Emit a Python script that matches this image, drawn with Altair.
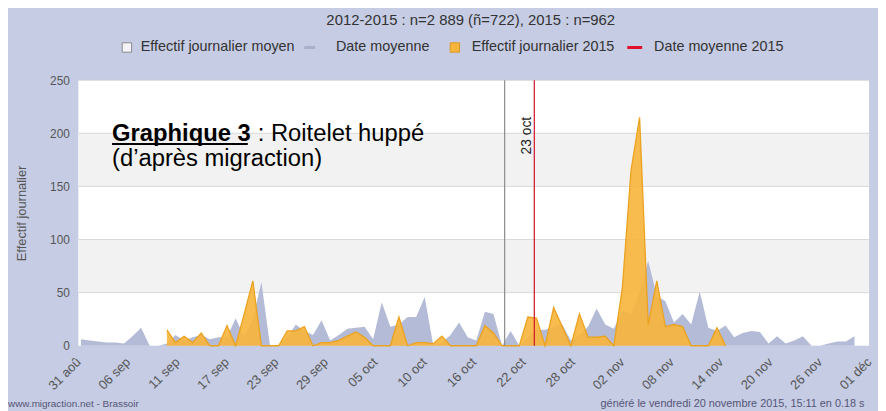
import altair as alt
import pandas as pd

# ---------------- data ----------------
tick_labels = ["31 aoû", "06 sep", "11 sep", "17 sep", "23 sep", "29 sep", "05 oct",
               "10 oct", "16 oct", "22 oct", "28 oct", "02 nov", "08 nov", "14 nov",
               "20 nov", "26 nov", "01 déc"]
TICK_STEP = 5.75          # days between labelled ticks
N_DAYS = 92               # 31 aoû -> 01 déc
DAY_OFFSET = 0.3          # position of a daily point inside its day

mean_start = 0            # day index of first value (31 aoû)
mean_values = [6, 5, 4, 3, 3, 2, 9, 17, 0, 0,
               2, 10, 5, 8, 10, 6, 8, 8, 26, 8,
               25, 60, 0, 0, 8, 20, 14, 10, 24, 5,
               10, 16, 17, 18, 6, 41, 18, 20, 27, 27,
               46, 0, 3, 10, 22, 8, 5, 32, 30, 0,
               14, 0, 8, 15, 15, 18, 20, 5, 10, 18,
               35, 20, 16, 33, 30, 50, 80, 47, 42, 22,
               30, 20, 51, 17, 14, 19, 8, 12, 14, 13,
               2, 9, 2, 5, 9, 0, 0, 2, 4, 4, 9]

y2015_start = 10          # day index of first 2015 value (10 sep)
y2015_values = [15, 3, 9, 3, 12, 0, 0, 19, 0, 30,
                61, 0, 0, 0, 14, 14, 18, 0, 3, 3,
                5, 9, 13, 8, 0, 0, 0, 27, 0, 3,
                3, 2, 9, 0, 0, 0, 0, 19, 12, 0,
                0, 0, 27, 26, 0, 36, 18, 0, 30, 8,
                8, 9, 0, 55, 165, 215, 20, 61, 18, 20,
                18, 0, 0, 0, 17, 0]

mean_dates = [49.6, 53.05]                 # date moyenne, date moyenne 2015 (day index)
mean_date_names = ["Date moyenne", "Date moyenne 2015"]
mean_date_colors = ["#8a8a8a", "#d0102a"]
mean_2015_label = "23 oct"

y_ticks = [0, 50, 100, 150, 200, 250]
grid_values = [50, 100, 150, 200, 250]
band_lo = [50, 150]
band_hi = [100, 200]

subtitle = "2012-2015 : n=2 889 (ñ=722), 2015 : n=962"
legend_labels = ["Effectif journalier moyen", "Date moyenne", "Effectif journalier 2015", "Date moyenne 2015"]
footer_left = "www.migraction.net - Brassoir"
footer_right = "généré le vendredi 20 novembre 2015, 15:11 en 0.18 s"

# ---------------- frames ----------------
df_mean = pd.DataFrame({"day": [mean_start + i + DAY_OFFSET for i in range(len(mean_values))],
                        "value": mean_values})
df_2015 = pd.DataFrame({"day": [y2015_start + i + DAY_OFFSET for i in range(len(y2015_values))],
                        "value": y2015_values})
df_bands = pd.DataFrame({"lo": band_lo, "hi": band_hi})
df_grid = pd.DataFrame({"v": grid_values})
df_rules = pd.DataFrame({"day": mean_dates, "name": mean_date_names, "color": mean_date_colors})
df_label = pd.DataFrame({"day": [mean_dates[1]], "txt": [mean_2015_label]})

W, H = 798, 268
FONT = "Liberation Sans"
GRAY_FILL = "#b4bbd7"
ORANGE_FILL = "#f7b53b"
ORANGE_LINE = "#eba21f"

label_array = "[" + ",".join("'" + t + "'" for t in tick_labels) + "]"
x_axis = alt.Axis(values=[k * TICK_STEP for k in range(len(tick_labels))],
                  labelExpr=label_array + "[round(datum.value / " + str(TICK_STEP) + ")]",
                  labelAngle=-45, labelAlign="right", labelBaseline="middle",
                  labelFontSize=13, labelColor="#555555", labelPadding=14,
                  labelFlush=False, labelOverlap=False, labelBound=False,
                  domain=False, ticks=False, grid=False, title=None)
y_axis = alt.Axis(values=y_ticks, title="Effectif journalier", titleFontSize=13,
                  titleColor="#555555", titleFontWeight="normal", titlePadding=21,
                  labelFontSize=12, labelColor="#555555", labelPadding=9,
                  domain=False, ticks=False, grid=False)
xs = alt.Scale(domain=[0, N_DAYS], nice=False, zero=False)
ys = alt.Scale(domain=[0, 250], nice=False)


def X(f):
    return alt.X(f + ":Q", scale=xs, axis=x_axis)


def Y(f):
    return alt.Y(f + ":Q", scale=ys, axis=y_axis)


bands = alt.Chart(df_bands).mark_rect(color="#f2f2f2").encode(
    x=alt.value(0), x2=alt.value(W), y=Y("lo"), y2="hi")
grid = alt.Chart(df_grid).mark_rule(color="#d9d9d9", strokeWidth=1).encode(y=Y("v"))
area_mean = alt.Chart(df_mean).mark_area(color=GRAY_FILL, opacity=1).encode(x=X("day"), y=Y("value"))
area_2015 = alt.Chart(df_2015).mark_area(color=ORANGE_FILL, opacity=0.9,
                                         line={"color": ORANGE_LINE, "strokeWidth": 1.3}).encode(
    x=X("day"), y=Y("value"))
rules = alt.Chart(df_rules).mark_rule(strokeWidth=1.2).encode(
    x=X("day"), color=alt.Color("color:N", scale=None))
lbl = alt.Chart(df_label).mark_text(angle=270, align="center", baseline="bottom", fontSize=14,
                                    color="#222222", font=FONT).encode(
    x=X("day"), y=alt.value(56), text="txt:N")

# annotation (text inside the plot)
ann1 = alt.Chart(df_label).mark_text(align="left", baseline="alphabetic", fontSize=24, fontWeight="bold",
                                     font=FONT, color="#000000", text="Graphique 3").encode(
    x=alt.value(34), y=alt.value(61))
ann_u = alt.Chart(df_label).mark_rule(color="#000000", strokeWidth=2).encode(
    x=alt.value(34), x2=alt.value(171), y=alt.value(64.5))
ann2 = alt.Chart(df_label).mark_text(align="left", baseline="alphabetic", fontSize=24,
                                     font=FONT, color="#000000", text=": Roitelet huppé").encode(
    x=alt.value(181), y=alt.value(61))
ann3 = alt.Chart(df_label).mark_text(align="left", baseline="alphabetic", fontSize=24,
                                     font=FONT, color="#000000", text="(d’après migraction)").encode(
    x=alt.value(34), y=alt.value(87))

# subtitle / legend / footer
sub = alt.Chart(df_label).mark_text(align="center", baseline="middle", fontSize=15, font=FONT,
                                    color="#333333", text=subtitle).encode(x=alt.value(396), y=alt.value(-61))
LEG_Y = -33
leg = [
    alt.Chart(df_label).mark_point(shape="square", size=90, filled=True, fill="#f4f4f8",
                                   stroke="#8a8a8a", strokeWidth=1, opacity=1).encode(
        x=alt.value(49), y=alt.value(LEG_Y)),
    alt.Chart(df_label).mark_rule(color="#a9b0cc", strokeWidth=3).encode(
        x=alt.value(228), x2=alt.value(239), y=alt.value(LEG_Y)),
    alt.Chart(df_label).mark_point(shape="square", size=90, filled=True, fill=ORANGE_FILL,
                                   stroke="#d99a25", strokeWidth=1, opacity=1).encode(
        x=alt.value(380), y=alt.value(LEG_Y)),
    alt.Chart(df_label).mark_rule(color="#e0102a", strokeWidth=3).encode(
        x=alt.value(554), x2=alt.value(569), y=alt.value(LEG_Y)),
]
for xpos, txt in zip([63, 260, 397, 581], legend_labels):
    leg.append(alt.Chart(df_label).mark_text(align="left", baseline="middle", fontSize=14.5, font=FONT,
                                             color="#333333", text=txt).encode(
        x=alt.value(xpos), y=alt.value(LEG_Y)))

foot1 = alt.Chart(df_label).mark_text(align="left", baseline="alphabetic", fontSize=10, font=FONT,
                                      color="#555577", text=footer_left).encode(
    x=alt.value(-71), y=alt.value(330))
foot2 = alt.Chart(df_label).mark_text(align="left", baseline="alphabetic", fontSize=11, font=FONT,
                                      color="#555577", text=footer_right).encode(
    x=alt.value(527), y=alt.value(330))

chart = alt.layer(bands, grid, area_mean, area_2015, rules, lbl, ann1, ann_u, ann2, ann3,
                  sub, *leg, foot1, foot2).properties(
    width=W, height=H,
    padding={"left": 71, "top": 71, "right": 9, "bottom": 64},
    autosize=alt.AutoSizeParams(type="none"),
).configure(background="#c5cce3", font=FONT).configure_view(fill="white", stroke=None)

chart.save("out.html", embed_options={"renderer": "svg", "actions": False})
